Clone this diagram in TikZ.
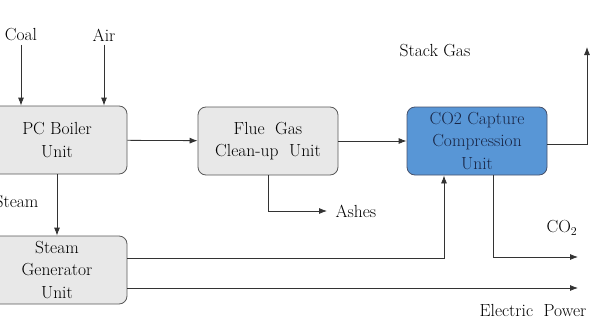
\documentclass[tikz,border=0pt]{standalone}
\usetikzlibrary{shapes,arrows,arrows.meta,positioning}

\definecolor{capblue}{RGB}{88,150,214}
\definecolor{capink}{RGB}{25,38,70}

\begin{document}
\begin{tikzpicture}[x=1pt,y=1pt,>={Latex[length=8pt,width=6pt]},
  unit/.style={draw=black!65, fill=black!9, rounded corners=8pt, line width=0.8pt,
    minimum width=140pt, minimum height=68pt, inner sep=0pt, align=center,
    font=\fontsize{17.5}{22.5}\selectfont, text=black},
  flow/.style={->, line width=0.8pt, draw=black!80},
  lbl/.style={font=\fontsize{17.5}{20}\selectfont, text=black}]
\def \w {597}
\def \h {325}
\useasboundingbox (0,0) rectangle (\w,\h);
\clip (0,0) rectangle (\w,\h);

% units
\node[unit] (boiler) at (57,185) {PC Boiler\\Unit};
\node[unit] (flue) at (268,184) {Flue\ \ Gas\\Clean-up\ \ Unit};
\node[unit, fill=capblue, draw=capink!80, text=capink] (capture) at (477,184) {CO2 Capture\\Compression\\Unit};
\node[unit] (gen) at (57,55) {Steam\\Generator\\Unit};

% stream labels
\node[lbl] (coal) at (21,290) {Coal};
\node[lbl] (air) at (104,290) {Air};
\node[lbl] (stack) at (435,274) {Stack Gas};
\node[lbl, anchor=east] (steam) at (42,123) {Steam};
\node[lbl, anchor=west] (ashes) at (332,114) {Ashes};
\node[lbl] (co2) at (562,97) {CO$_2$};
\node[lbl] (power) at (533,15) {Electric\ \ Power};

\coordinate (stacktop) at (587,278);
\coordinate (ashend) at (327,114);
\coordinate (co2end) at (578,68);
\coordinate (powend) at (578,37);

% feeds
\draw[flow] (coal.south) -- (coal |- boiler.north);
\draw[flow] (air.south) -- (air |- boiler.north);
\draw[flow] (boiler) -- (flue);
\draw[flow] (flue) -- (capture);
\draw[flow] ([yshift=-3pt]capture.east) -| (stacktop);
\draw[flow] (flue.south) |- (ashend);
\draw[flow] (boiler.south) -- (gen.north);
\draw[flow] ([yshift=12pt]gen.east) -| ([xshift=-33pt]capture.south);
\draw[flow] ([xshift=16pt]capture.south) |- (co2end);
\draw[flow] ([yshift=-18pt]gen.east) -- (powend);
\end{tikzpicture}
\end{document}
